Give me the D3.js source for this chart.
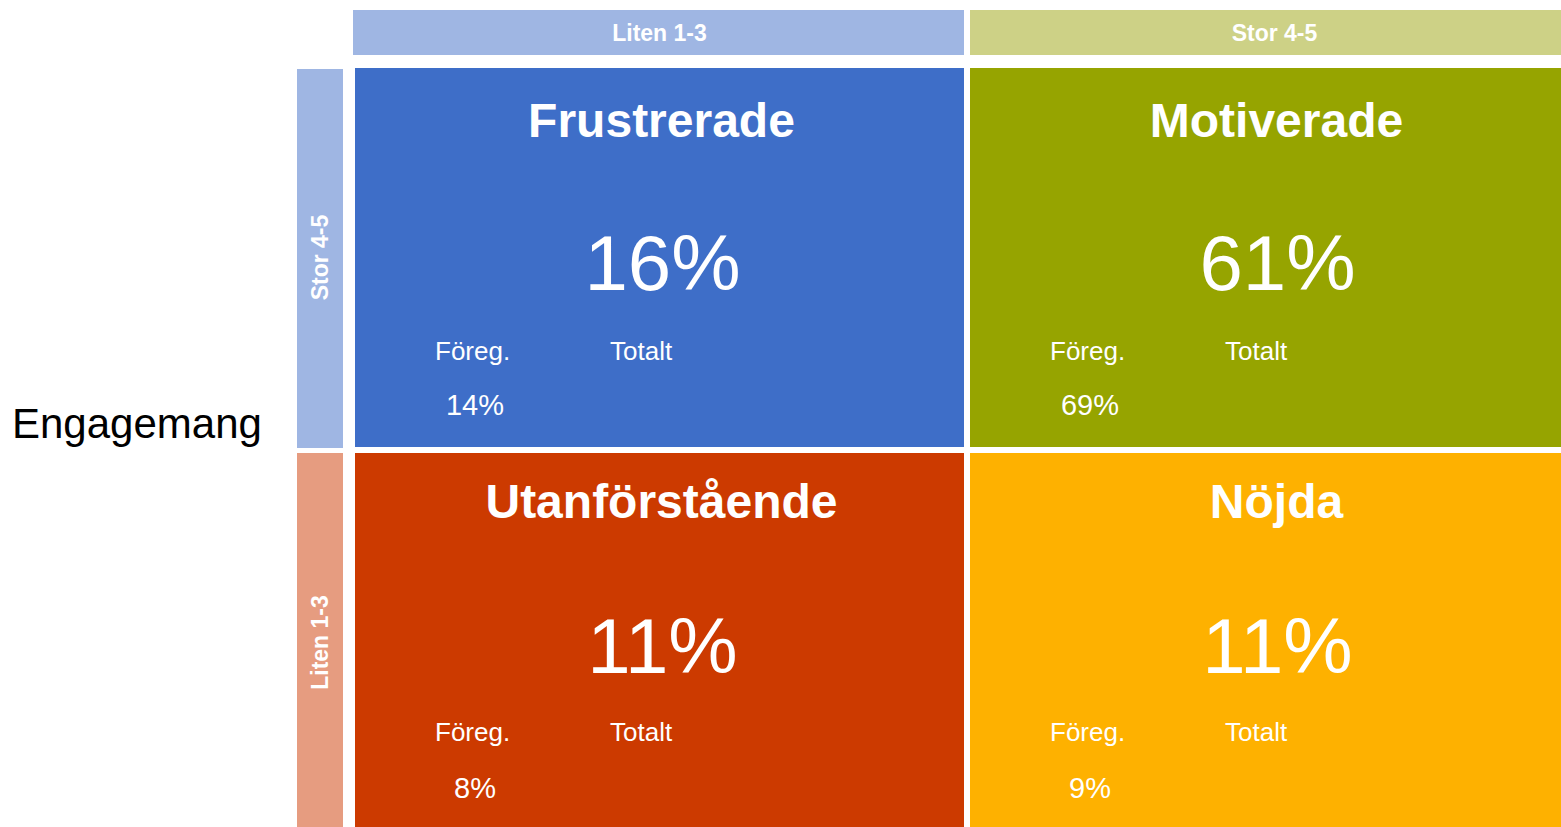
<!DOCTYPE html>
<html>
<head>
<meta charset="utf-8">
<script src="https://cdn.jsdelivr.net/npm/d3@7"></script>
<style>
  body { margin: 0; background: #fff; overflow: hidden; }
  text { font-family: "Liberation Sans", Arial, sans-serif; }
</style>
</head>
<body>
<script>
// Påverkan (kolumner) x Engagemang (rader)
var colLabels = ['Liten 1-3', 'Stor 4-5'],
    rowLabels = ['Stor 4-5', 'Liten 1-3'],
    segments = ['Frustrerade', 'Motiverade', 'Utanförstående', 'Nöjda'],
    segCol = ['Liten 1-3', 'Stor 4-5', 'Liten 1-3', 'Stor 4-5'],
    segRow = ['Stor 4-5', 'Stor 4-5', 'Liten 1-3', 'Liten 1-3'],
    totalPct = [16, 61, 11, 11],
    foregPct = [14, 69, 8, 9]

var segColors = ['#3e6ec8', '#96a400', '#cc3a00', '#feb100'],
    colHeadColors = ['#9fb6e3', '#cdd186'],
    rowHeadColors = ['#9fb6e3', '#e69c80']

var width = 1561,
    height = 827,
    svg = d3.select('body').append('svg')
        .attr('width', width)
        .attr('height', height)

// band scales for the 2x2 grid (right column / bottom row run past the edge)
var xScale = d3.scaleBand()
    .domain(colLabels)
    .range([355, 1579])
    .paddingInner(6 / 615)

var yScale = d3.scaleBand()
    .domain(rowLabels)
    .range([68, 832])
    .paddingInner(6 / 385)

var bw = xScale.bandwidth(),
    bh = yScale.bandwidth()

var data = segments.map((s, i) => ({
    name: s, col: segCol[i], row: segRow[i],
    total: totalPct[i], foreg: foregPct[i], color: segColors[i]
}))

// column headers
var colHead = svg.selectAll('.colhead').data(colLabels).enter()
    .append('g').attr('class', 'colhead')

colHead.append('rect')
    .attr('x', d => xScale(d) - (d === colLabels[0] ? 2 : 0))
    .attr('y', 10)
    .attr('width', d => bw + (d === colLabels[0] ? 2 : 0))
    .attr('height', 45)
    .attr('fill', (d, i) => colHeadColors[i])

colHead.append('text')
    .attr('x', d => xScale(d) + bw / 2)
    .attr('y', 41)
    .attr('text-anchor', 'middle')
    .attr('font-size', 23)
    .attr('font-weight', 'bold')
    .attr('fill', '#fff')
    .text(d => d)

// row headers
var rowHead = svg.selectAll('.rowhead').data(rowLabels).enter()
    .append('g').attr('class', 'rowhead')

rowHead.append('rect')
    .attr('x', 297)
    .attr('y', d => yScale(d) + (d === rowLabels[0] ? 1 : 0))
    .attr('width', 46)
    .attr('height', bh)
    .attr('fill', (d, i) => rowHeadColors[i])

rowHead.append('text')
    .attr('transform', d => 'translate(328,' + (yScale(d) + bh / 2) + ') rotate(-90)')
    .attr('text-anchor', 'middle')
    .attr('font-size', 23)
    .attr('font-weight', 'bold')
    .attr('fill', '#fff')
    .text(d => d)

// axis title
svg.append('text')
    .attr('x', 12)
    .attr('y', 438)
    .attr('font-size', 42)
    .attr('fill', '#000')
    .text('Engagemang')

// cells
var cell = svg.selectAll('.cell').data(data).enter()
    .append('g').attr('class', 'cell')
    .attr('transform', d => 'translate(' + xScale(d.col) + ',' + yScale(d.row) + ')')

cell.append('rect')
    .attr('width', bw)
    .attr('height', bh)
    .attr('fill', d => d.color)

// top row sits a few px lower than the bottom row in the original
var rowShift = d => d.row === rowLabels[0] ? 2 : -2

cell.append('text')
    .attr('x', bw / 2 + 2)
    .attr('y', d => 67 + rowShift(d))
    .attr('text-anchor', 'middle')
    .attr('font-size', 48)
    .attr('font-weight', 'bold')
    .attr('fill', '#fff')
    .text(d => d.name)

cell.append('text')
    .attr('x', bw / 2 + 3)
    .attr('y', d => 221 + rowShift(d) / 2)
    .attr('text-anchor', 'middle')
    .attr('font-size', 78)
    .attr('fill', '#fff')
    .text(d => d.total + '%')

cell.append('text')
    .attr('x', 80)
    .attr('y', d => 290 + rowShift(d))
    .attr('font-size', 26)
    .attr('fill', '#fff')
    .text('Föreg.')

cell.append('text')
    .attr('x', 255)
    .attr('y', d => 290 + rowShift(d))
    .attr('font-size', 26)
    .attr('fill', '#fff')
    .text('Totalt')

cell.append('text')
    .attr('x', 120)
    .attr('y', d => 346 + rowShift(d) / 2)
    .attr('text-anchor', 'middle')
    .attr('font-size', 29)
    .attr('fill', '#fff')
    .text(d => d.foreg + '%')
</script>
</body>
</html>
